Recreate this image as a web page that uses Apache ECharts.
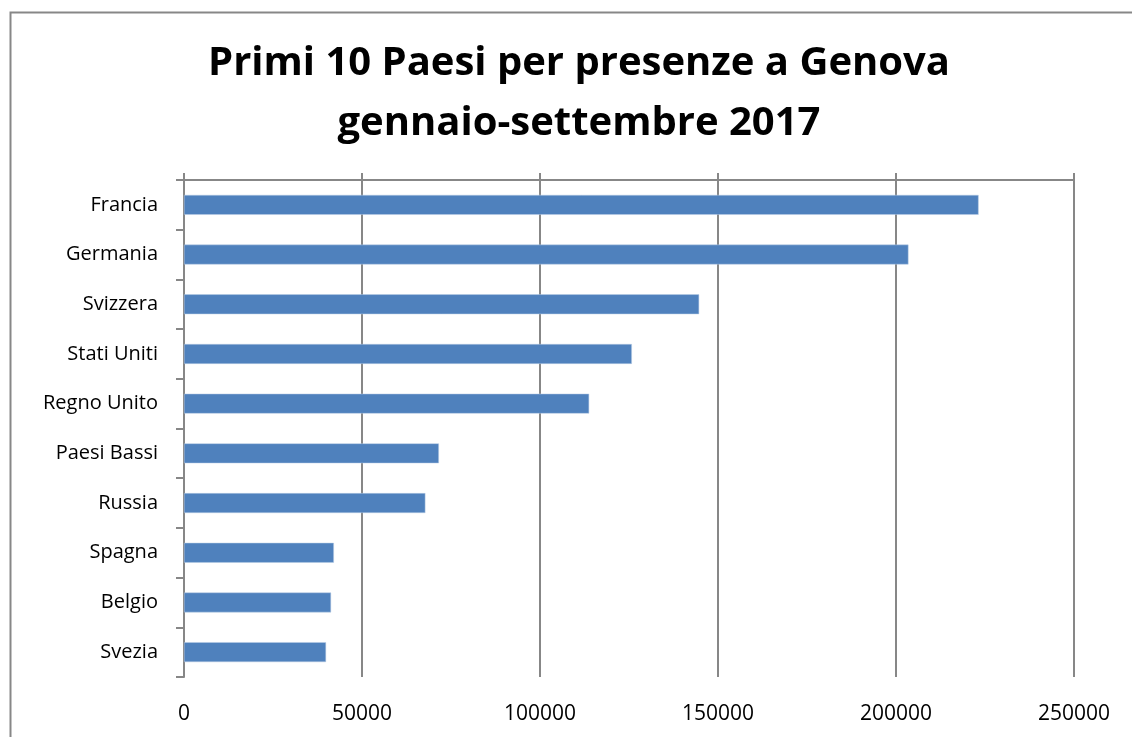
<!DOCTYPE html>
<html>
<head>
<meta charset="utf-8">
<script src="https://cdn.jsdelivr.net/npm/echarts@6/dist/echarts.min.js"></script>
<style>
html,body{margin:0;padding:0;background:#fff;}
#chart{width:1132px;height:737px;}
</style>
</head>
<body>
<div id="chart"></div>
<script>
const categories = ['Francia','Germania','Svizzera','Stati Uniti','Regno Unito','Paesi Bassi','Russia','Spagna','Belgio','Svezia'];
const presenze = [223200, 203500, 144700, 125800, 113800, 71600, 67800, 42100, 41300, 39900];
const titleText = 'Primi 10 Paesi per presenze a Genova\ngennaio-settembre 2017';
const axisMin = 0, axisMax = 250000, axisStep = 50000;

const chart = echarts.init(document.getElementById('chart'));
const gray = '#878787';
const font = '"Open Sans", "Noto Sans", sans-serif';
chart.setOption({
  animation: false,
  backgroundColor: '#fff',
  graphic: [{
    type: 'rect', left: 8, top: 10, silent: true,
    shape: {width: 1140, height: 740},
    style: {fill: 'none', stroke: gray, lineWidth: 2}
  }],
  title: {
    text: titleText,
    left: 574, top: 29, textAlign: 'center',
    textStyle: {fontFamily: font, fontWeight: 'bold', fontSize: 40, lineHeight: 60, color: '#000'}
  },
  grid: {left: 184, right: 58, top: 180, bottom: 60, containLabel: false},
  xAxis: [{
    type: 'value', position: 'bottom', min: axisMin, max: axisMax, interval: axisStep,
    axisLine: {show: false}, axisTick: {show: false},
    axisLabel: {fontFamily: font, fontSize: 21, color: '#000', margin: 27, formatter: v => String(v)},
    splitLine: {show: true, lineStyle: {color: gray, width: 2}}
  }, {
    type: 'value', position: 'top', min: axisMin, max: axisMax, interval: axisStep,
    axisLine: {show: true, lineStyle: {color: gray, width: 2}},
    axisTick: {show: true, length: 7, lineStyle: {color: gray, width: 2}},
    axisLabel: {show: false}, splitLine: {show: false}
  }],
  yAxis: {
    type: 'category', data: categories, inverse: true,
    axisLine: {show: true, lineStyle: {color: gray, width: 2}},
    axisTick: {show: true, length: 8, lineStyle: {color: gray, width: 2}},
    axisLabel: {fontFamily: font, fontSize: 20, color: '#000', margin: 26},
    splitLine: {show: false}
  },
  series: [{
    type: 'bar', xAxisIndex: 0, data: presenze,
    barCategoryGap: '60%',
    itemStyle: {color: '#4F81BD', borderColor: '#B9CDE5', borderWidth: 0.5}
  }]
});
</script>
</body>
</html>
